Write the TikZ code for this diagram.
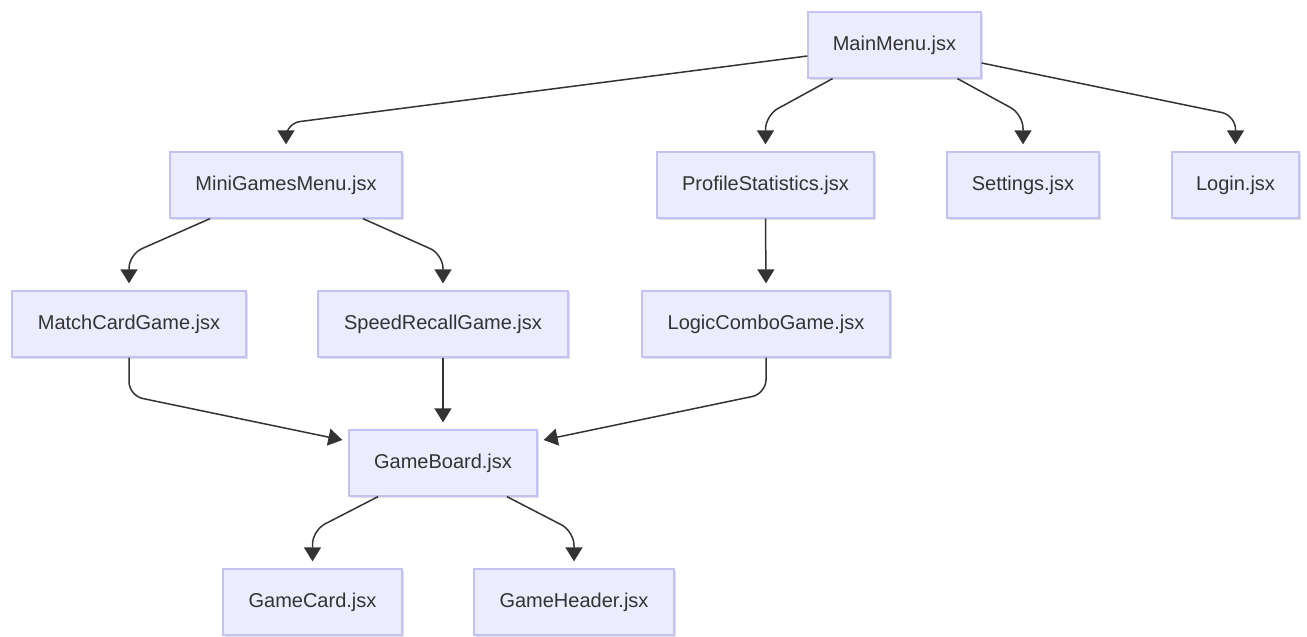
\documentclass[tikz,border=0pt]{standalone}
\usepackage{fontspec}
\setmainfont{Liberation Sans}
\usetikzlibrary{arrows.meta,shadows}
\definecolor{boxfill}{HTML}{ECECFF}
\definecolor{boxline}{HTML}{C2C2F4}
\definecolor{ink}{HTML}{333333}
\tikzset{
  comp/.style={draw=boxline, fill=boxfill, line width=1.3pt, text=ink,
    font=\fontsize{20}{24}\selectfont, minimum height=66pt, inner sep=0pt,
    drop shadow={shadow xshift=1.5pt, shadow yshift=-2pt, opacity=0.12, fill=black}},
  edge/.style={draw=ink, line width=1.5pt, rounded corners=14pt,
    -{Triangle[length=14pt,width=17pt]}}
}
\begin{document}
\begin{tikzpicture}[x=1pt,y=-1pt]
\useasboundingbox (0,0) rectangle (1307,637);
\node[comp, minimum width=173pt] (main)   at (894.5,45) {MainMenu.jsx};
\node[comp, minimum width=232pt] (mini)   at (286,185) {MiniGamesMenu.jsx};
\node[comp, minimum width=217pt] (prof)   at (765.5,185) {ProfileStatistics.jsx};
\node[comp, minimum width=152pt] (sett)   at (1023,185) {Settings.jsx};
\node[comp, minimum width=127pt] (login)  at (1235.5,185) {Login.jsx};
\node[comp, minimum width=234pt] (match)  at (129,324) {MatchCardGame.jsx};
\node[comp, minimum width=250pt] (speed)  at (443,324) {SpeedRecallGame.jsx};
\node[comp, minimum width=248pt] (logic)  at (766,324) {LogicComboGame.jsx};
\node[comp, minimum width=188pt] (board)  at (443,463) {GameBoard.jsx};
\node[comp, minimum width=179pt] (card)   at (312.5,602) {GameCard.jsx};
\node[comp, minimum width=200pt] (header) at (574,602) {GameHeader.jsx};

\draw[edge] ([yshift=-11pt]main.west) -- ([yshift=28pt]mini.north) -- ([yshift=7pt]mini.north);
\draw[edge] ([xshift=-62pt]main.south) -- ([yshift=36pt]prof.north) -- ([yshift=7pt]prof.north);
\draw[edge] ([xshift=63pt]main.south) -- ([yshift=37pt]sett.north) -- ([yshift=7pt]sett.north);
\draw[edge] ([yshift=-18pt]main.east) -- ([yshift=36pt]login.north) -- ([yshift=7pt]login.north);

\draw[edge] ([xshift=-76pt]mini.south) -- ([yshift=36pt]match.north) -- ([yshift=7pt]match.north);
\draw[edge] ([xshift=77pt]mini.south) -- ([yshift=36pt]speed.north) -- ([yshift=7pt]speed.north);
\draw[edge] (prof.south) -- ([yshift=7pt]logic.north);

\draw[edge] (match.south) -- ([yshift=-38pt]match.south) -- ([xshift=-6pt,yshift=23pt]board.west);
\draw[edge] (speed.south) -- ([yshift=7pt]board.north);
\draw[edge] (logic.south) -- ([yshift=-36pt]logic.south) -- ([xshift=6pt,yshift=23pt]board.east);

\draw[edge] ([xshift=-65pt]board.south) -- ([yshift=38pt]card.north) -- ([yshift=7pt]card.north);
\draw[edge] ([xshift=64pt]board.south) -- ([yshift=37pt]header.north) -- ([yshift=7pt]header.north);
\end{tikzpicture}
\end{document}
